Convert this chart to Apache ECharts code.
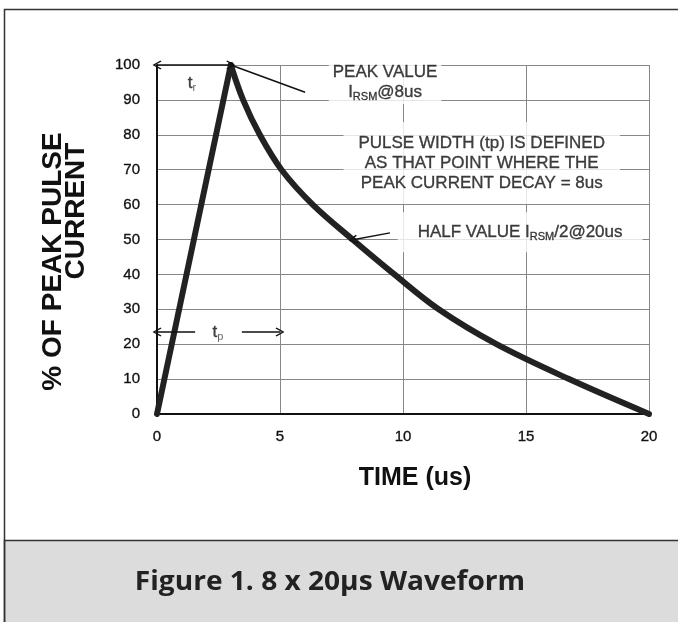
<!DOCTYPE html>
<html><head><meta charset="utf-8">
<script src="https://cdn.jsdelivr.net/npm/echarts@6/dist/echarts.min.js"></script>
<style>html,body{margin:0;padding:0;background:#fff}#c{width:678px;height:622px}</style>
</head><body><div id="c"></div>
<script>
// ---- data ----
const xTicks = [0, 5, 10, 15, 20];
const yTicks = [0, 10, 20, 30, 40, 50, 60, 70, 80, 90, 100];
const riseTime = [0, 3];
const riseValue = [0, 100];
const decayTime = [3, 3.5, 4.18, 5.06, 6.33, 7.95, 9.65, 11.45, 13.8, 16.75, 20];
const decayValue = [100, 90, 80, 70, 60, 50, 40, 30, 20, 10, 0];
const xTitle = 'TIME (us)';
const yTitle1 = '% OF PEAK PULSE';
const yTitle2 = 'CURRENT';
const caption = 'Figure 1. 8 x 20\u03bcs Waveform';
// annotation texts and anchors (data units)
const noteTexts = [
  '{n|PEAK VALUE}\n{n|I}{s|RSM}{n|@8us}',
  '{n|PULSE WIDTH (tp) IS DEFINED}\n{n|AS THAT POINT WHERE THE}\n{n|PEAK CURRENT DECAY = 8us}',
  '{n|HALF VALUE I}{s|RSM}{n|/2@20us}',
  '{t|t}{ts|r}',
  '{t|t}{ts|p}'
];
const noteAnchors = [[9.27, 95.1], [13.2, 71.9], [14.76, 52.1], [1.42, 94.8], [2.48, 23.5]];
// arrows: [from, to, headAtFrom, headAtTo]
const arrowFrom = [[0, 100], [3, 100], [1.55, 23.5], [3.45, 23.5], [9.47, 51.9]];
const arrowTo = [[3, 100], [6.02, 92.2], [0, 23.5], [5, 23.5], [7.97, 49.9]];
const arrowHeadFrom = [true, false, false, false, false];
const arrowHeadTo = [true, false, true, true, true];

// ---- build ----
const zip = (a, b) => a.map((v, i) => [v, b[i]]);
const FONT = 'Liberation Sans';
const INK = '#111';
const chev = 'path://M5,0 L10,8 L8.8,9 L5,2.6 L1.2,9 L0,8 Z';
const bold = { textBorderColor: INK, textBorderWidth: 0.35 };
const richN = Object.assign({ fontSize: 17, lineHeight: 20, color: INK, fontFamily: FONT }, bold);
const richS = Object.assign({ fontSize: 11, lineHeight: 13, color: INK, fontFamily: FONT, verticalAlign: 'bottom' }, bold);
const pads = [[2, 4], [11, 15], [10, 20], [0, 0], [0, 0]];
const bgs = ['#fff', '#fff', '#fff', 'transparent', 'transparent'];

const chart = echarts.init(document.getElementById('c'), null, { renderer: 'canvas' });
chart.setOption({
  animation: false,
  backgroundColor: '#fff',
  grid: { left: 157, right: 29, top: 65, bottom: 208 },
  xAxis: {
    type: 'value', min: xTicks[0], max: xTicks[xTicks.length - 1], interval: xTicks[1] - xTicks[0],
    axisLine: { show: true, lineStyle: { color: '#111', width: 2 } },
    axisTick: { show: false },
    axisLabel: Object.assign({ color: INK, fontSize: 15, fontFamily: FONT, margin: 15 }, bold),
    splitLine: { show: true, lineStyle: { color: '#878787', width: 1 } }
  },
  yAxis: {
    type: 'value', min: yTicks[0], max: yTicks[yTicks.length - 1], interval: yTicks[1] - yTicks[0],
    axisLine: { show: true, lineStyle: { color: '#111', width: 2 } },
    axisTick: { show: false },
    axisLabel: Object.assign({ color: INK, fontSize: 15, fontFamily: FONT, margin: 17 }, bold),
    splitLine: { show: true, lineStyle: { color: '#878787', width: 1 } }
  },
  series: [
    {
      type: 'line', data: zip(riseTime, riseValue), showSymbol: false, z: 4,
      lineStyle: { color: '#222', width: 6, cap: 'round', join: 'round' }
    },
    {
      type: 'line', data: zip(decayTime, decayValue), showSymbol: false, smooth: 0.35, z: 4,
      lineStyle: { color: '#222', width: 6, cap: 'round', join: 'round' }
    },
    {
      type: 'scatter', symbolSize: 1, z: 5, silent: true,
      itemStyle: { color: 'rgba(0,0,0,0)' },
      data: noteAnchors.map((p, i) => ({
        value: p,
        label: {
          show: true, position: 'inside', formatter: noteTexts[i], color: INK,
          backgroundColor: bgs[i], padding: pads[i],
          rich: {
            n: richN, s: richS,
            t: Object.assign({ fontSize: 17, lineHeight: 20, color: INK, fontFamily: FONT }, bold),
            ts: { fontSize: 11, lineHeight: 12, color: '#4a3a2a', fontFamily: FONT, verticalAlign: 'bottom' }
          }
        }
      })),
      markLine: {
        silent: true, animation: false, symbol: 'none',
        label: { show: false },
        lineStyle: { color: '#111', width: 1.5, type: 'solid' },
        emphasis: { disabled: true },
        data: arrowFrom.map((f, i) => [
          { coord: f, symbol: arrowHeadFrom[i] ? chev : 'none', symbolSize: [9, 9] },
          { coord: arrowTo[i], symbol: arrowHeadTo[i] ? chev : 'none', symbolSize: [9, 9] }
        ])
      }
    }
  ],
  graphic: [
    { type: 'rect', z: 0, shape: { x: 4.5, y: 540.5, width: 700, height: 120 }, style: { fill: '#dcdcdc', stroke: '#333', lineWidth: 1.5 } },
    { type: 'rect', z: 100, shape: { x: 4.5, y: 9.5, width: 700, height: 700 }, style: { fill: 'none', stroke: '#333', lineWidth: 1.5 } },
    { type: 'text', x: 330, y: 583, z: 100, scaleX: 1.08, style: { text: caption, font: 'bold 26px "Open Sans"', fill: '#222', align: 'center', verticalAlign: 'middle' } },
    { type: 'text', x: 415, y: 478, z: 100, style: { text: xTitle, font: 'bold 25px "Liberation Sans"', fill: '#111', align: 'center', verticalAlign: 'middle' } },
    { type: 'text', x: 53.5, y: 261.5, rotation: Math.PI / 2, z: 100, style: { text: yTitle1, font: 'bold 28px "Liberation Sans"', fill: '#111', align: 'center', verticalAlign: 'middle' } },
    { type: 'text', x: 76, y: 211, rotation: Math.PI / 2, z: 100, style: { text: yTitle2, font: 'bold 28px "Liberation Sans"', fill: '#111', align: 'center', verticalAlign: 'middle' } }
  ]
});
</script>
</body></html>
